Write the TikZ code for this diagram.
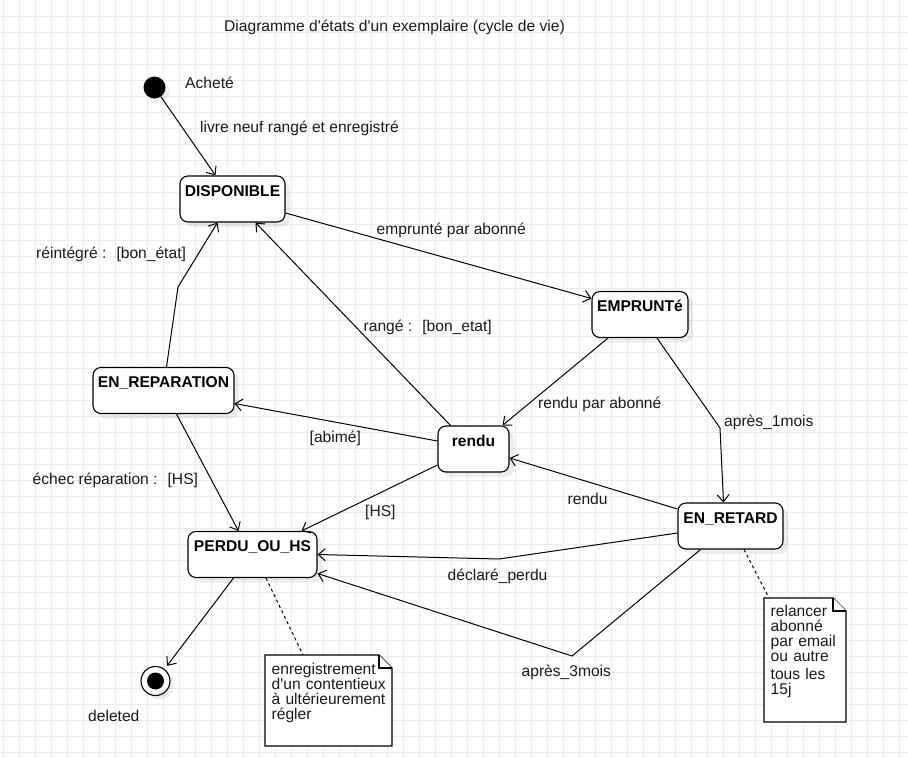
\documentclass[tikz,border=0pt]{standalone}
\usepackage{fontspec}
\setmainfont{Liberation Sans}
\usepackage{tikz}
\usetikzlibrary{arrows.meta, positioning, calc, shadows}
\definecolor{gridgray}{HTML}{EBEBEB}
\definecolor{inkgray}{HTML}{1A1A1A}
\newcommand{\apos}{\textquotesingle}

\begin{document}
\begin{tikzpicture}[x=1pt, y=-1pt,
    every node/.style={font=\fontsize{15.6}{15}\selectfont, text=inkgray},
    gridline/.style={gridgray, line width=0.8pt},
    statebox/.style={draw, line width=1.1pt, rounded corners=8pt, fill=white,
        font=\fontsize{15.6}{15}\selectfont\bfseries, text=black,
        minimum height=46pt, inner xsep=1pt, inner ysep=4pt,
        text height=16pt, text depth=22pt,
        drop shadow={shadow xshift=5pt, shadow yshift=-5pt, fill=black, opacity=0.07}},
    initial/.style={circle, fill=black, minimum size=22pt, inner sep=0pt,
        drop shadow={shadow xshift=4pt, shadow yshift=-4pt, fill=black, opacity=0.07}},
    final/.style={circle, draw, line width=1.1pt, fill=white, minimum size=29pt, inner sep=0pt,
        drop shadow={shadow xshift=4pt, shadow yshift=-4pt, fill=black, opacity=0.07}},
    trans/.style={line width=1pt, -{Straight Barb[length=7pt, width=12pt]}},
    lbl/.style={anchor=base west, inner sep=0pt},
    notebox/.style={draw, line width=1.1pt, fill=white, line join=miter},
    notetext/.style={anchor=base west, inner sep=0pt, align=left},
    noteline/.style={line width=1pt, dash pattern=on 3pt off 3pt}]

    \useasboundingbox (0,0) rectangle (908,758);
    \fill[white] (0,0) rectangle (908,758);

    % Grid
    \foreach \gx in {3.3,19.3,...,908} \draw[gridline] (\gx,0) -- (\gx,758);
    \foreach \gy in {16,32,...,758} \draw[gridline] (0,\gy) -- (908,\gy);

    % Title
    \node[lbl] (title) at (224,31) {Diagramme d\apos états d\apos un exemplaire (cycle de vie)};

    % States
    \node[initial] (init) at (154.5,87.5) {};
    \node[statebox, minimum width=105pt] (dispo) at (232.5,199) {DISPONIBLE};
    \node[statebox, minimum width=96pt] (emprunte) at (640,314.5) {EMPRUNTé};
    \node[statebox, minimum width=141pt] (repar) at (163.5,390.5) {EN\_REPARATION};
    \node[statebox, minimum width=71pt] (rendu) at (473.5,449) {rendu};
    \node[statebox, minimum width=105pt] (retard) at (730.5,526) {EN\_RETARD};
    \node[statebox, minimum width=129pt] (perdu) at (252.5,554.5) {PERDU\_OU\_HS};
    \node[final] (final) at (155.5,681) {};
    \fill (final) circle (8.5);

    % Bends
    \coordinate (b-retard) at (720,428);
    \coordinate (b-perdu) at (499,559);
    \coordinate (b-3mois) at (572,656);
    \coordinate (b-repar) at (178,287);

    % Transitions
    \draw[trans] (init) -- ([xshift=-17pt]dispo.north);
    \draw[trans] ([yshift=-14pt]dispo.east) -- ([yshift=16pt]emprunte.west);
    \draw[trans] ([xshift=-32pt]emprunte.south) -- ([xshift=29pt]rendu.north);
    \draw[trans] ([xshift=17pt]emprunte.south) -- (b-retard) -- ([xshift=-7pt]retard.north);
    \draw[trans] ([yshift=17pt]retard.west) -- ([yshift=-9pt]rendu.east);
    \draw[trans] ([yshift=-7pt]retard.west) -- (b-perdu) -- (perdu.east);
    \draw[trans] ([xshift=-30pt]retard.south) -- (b-3mois) -- ([yshift=-19pt]perdu.east);
    \draw[trans] ([xshift=-23pt]rendu.north) -- ([xshift=23pt]dispo.south);
    \draw[trans] ([yshift=8pt]rendu.west) -- ([yshift=-13pt]repar.east);
    \draw[trans] ([yshift=-16pt]rendu.west) -- ([xshift=49pt]perdu.north);
    \draw[trans] ([xshift=3pt]repar.north) -- (b-repar) -- ([xshift=-15pt]dispo.south);
    \draw[trans] ([xshift=13pt]repar.south) -- ([xshift=-14pt]perdu.north);
    \draw[trans, shorten >=4pt] ([xshift=-19pt]perdu.south) -- (final);

    % Labels
    \node[lbl] (lbl-achete) at (185,88) {Acheté};
    \node[lbl] (lbl-neuf) at (200,132) {livre neuf rangé et enregistré};
    \node[lbl] (lbl-emprunte) at (376.5,234) {emprunté par abonné};
    \node[lbl] (lbl-reintegre) at (36,258) {réintégré :~ [bon\_état]};
    \node[lbl] (lbl-range) at (363.5,331) {rangé :~ [bon\_etat]};
    \node[lbl] (lbl-rendu-ab) at (538,408) {rendu par abonné};
    \node[lbl] (lbl-1mois) at (724,426) {après\_1mois};
    \node[lbl] (lbl-abime) at (309.5,442) {[abimé]};
    \node[lbl] (lbl-echec) at (32.5,484) {échec réparation :~ [HS]};
    \node[lbl] (lbl-rendu) at (567.5,504) {rendu};
    \node[lbl] (lbl-hs) at (365,516) {[HS]};
    \node[lbl] (lbl-perdu) at (447.5,580) {déclaré\_perdu};
    \node[lbl] (lbl-3mois) at (521.5,676) {après\_3mois};
    \node[lbl] (lbl-deleted) at (88,721) {deleted};

    % Notes
    \coordinate (n1) at (265,655);
    \coordinate (n2) at (764,598);
    \draw[noteline] ([xshift=13.5pt]perdu.south) -- ($(n1)+(38,0)$);
    \draw[noteline] ([xshift=13.5pt]retard.south) -- ($(n2)+(5,0)$);
    \draw[notebox] (n1) -- ++(114,0) -- ++(13,13) -- ++(0,78) -- ++(-127,0) -- cycle;
    \draw[notebox] ($(n1)+(114,0)$) -- ++(0,13) -- ++(13,0);
    \draw[notebox] (n2) -- ++(69,0) -- ++(13,13) -- ++(0,111) -- ++(-82,0) -- cycle;
    \draw[notebox] ($(n2)+(69,0)$) -- ++(0,13) -- ++(13,0);
    \node[notetext, text width=122pt] (note1) at ($(n1)+(6.5,19)$)
        {enregistrement\\d\apos un contentieux\\à ultérieurement\\régler};
    \node[notetext, text width=78pt] (note2) at ($(n2)+(6.5,18)$)
        {relancer\\abonné\\par email\\ou autre\\[3pt]tous les\\15j};
\end{tikzpicture}
\end{document}
